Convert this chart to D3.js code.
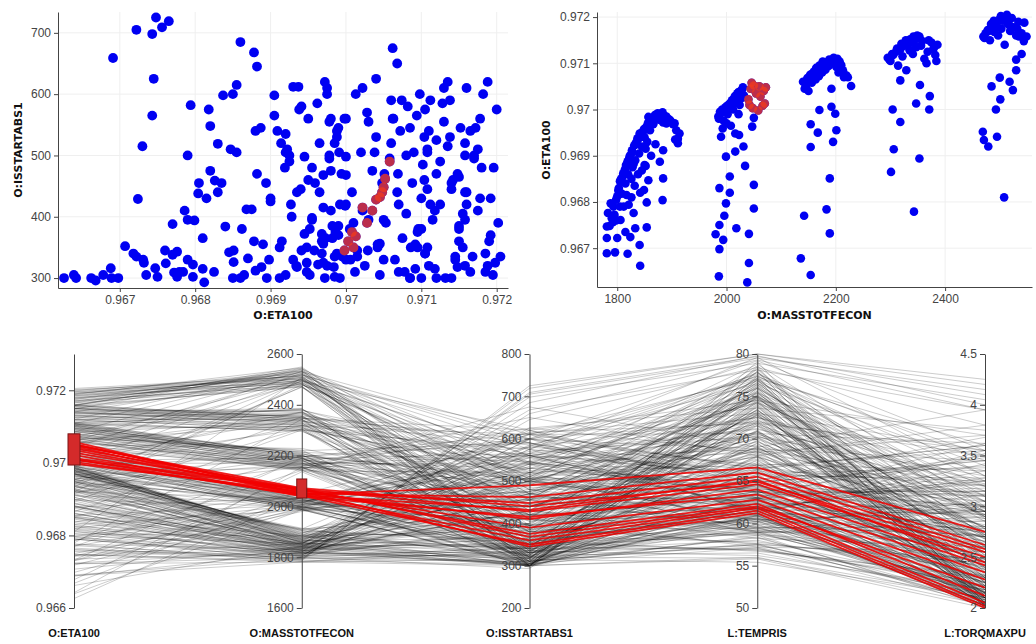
<!DOCTYPE html>
<meta charset="utf-8">
<style>
  body { margin: 0; background: #fff; }
  svg { display: block; font-family: "DejaVu Sans", sans-serif; }
  .tick text { fill: #444; font-size: 12px; }
  .domain, .tick line { stroke: #444; }
  .grid line { stroke: #efefef; }
  .title { font-size: 11px; font-weight: bold; fill: #111; }
  .lines path { fill: none; stroke: #000; stroke-opacity: 0.2; stroke-width: 1px; }
  .sel path { fill: none; stroke: #f20000; stroke-opacity: 0.85; stroke-width: 1.8px; }
</style>
<svg width="1036" height="644"></svg>
<script src="https://d3js.org/d3.v7.min.js"></script>
<script>
// columns: eta100, masstotfecon, isstartabs1, tempris, torqmaxpu
const dims = ["O:ETA100", "O:MASSTOTFECON", "O:ISSTARTABS1", "L:TEMPRIS", "L:TORQMAXPU"];

// mass ~1780-1915
const groupA = [
  [0.96689,1781,300,74.5,2.05],[0.96722,1781,335,76.0,2.15],[0.96747,1781,316,78.5,2.08],
  [0.96776,1783,343,77.2,2.20],[0.96797,1788,302,79.1,2.02],[0.96722,1800,705,79.5,4.15],
  [0.96761,1806,324,75.8,2.10],[0.96688,1819,316,73.4,2.12],[0.96724,1824,429,74.9,2.60],
  [0.96794,1821,582,77.6,3.45],[0.96776,1830,302,72.8,2.01],[0.96743,1833,698,78.9,4.05],
  [0.96707,1841,352,71.5,2.30],[0.96662,1842,300,70.2,2.00],[0.96745,1854,625,73.6,3.75],
  [0.96799,1854,394,72.1,2.45],[0.96826,1849,459,75.3,2.70],[0.96847,1857,510,76.4,2.95],
  [0.96851,1884,326,70.8,2.14],[0.96804,1883,438,71.9,2.62],[0.96887,1878,545,74.2,3.10],
  [0.96912,1884,300,69.5,2.03],[0.96927,1911,420,68.7,2.55],[0.96937,1911,612,73.0,3.55],
  [0.96970,1890,468,70.4,2.75],[0.96970,1905,356,69.1,2.28],[0.96988,1872,540,71.7,3.05],
  [0.96984,1857,318,72.6,2.10],[0.96765,1790,719,80.0,4.20],[0.96772,1795,309,78.0,2.05],
  [0.96691,1796,659,79.3,3.95],[0.96812,1800,293,77.4,2.00],[0.96830,1803,519,78.8,3.00],
  [0.96845,1805,342,76.9,2.22],[0.96818,1808,575,79.6,3.30],[0.96855,1810,505,77.8,2.90],
  [0.96870,1814,332,75.5,2.18],[0.96840,1815,384,78.2,2.40],[0.96882,1818,470,76.1,2.75],
  [0.96860,1820,685,79.8,4.00],[0.96895,1822,300,75.0,2.02],[0.96905,1826,565,77.0,3.25],
  [0.96875,1828,412,76.6,2.52],[0.96882,1830,645,78.4,3.80],[0.96890,1833,355,74.6,2.30],
  [0.96925,1835,490,76.0,2.85],[0.96935,1838,318,74.0,2.12],[0.96905,1840,598,77.3,3.50],
  [0.96945,1842,372,75.2,2.35],[0.96920,1845,535,76.8,3.05],[0.96952,1847,305,73.5,2.06],
  [0.96940,1850,445,75.6,2.68],[0.96878,1852,668,78.1,3.95],[0.96930,1855,330,74.4,2.16],
  [0.96965,1858,520,75.9,2.95],[0.96955,1860,398,74.8,2.50],[0.96975,1863,610,77.1,3.60],
  [0.96968,1866,340,73.2,2.20],[0.96980,1868,475,74.7,2.78],[0.96985,1872,302,72.4,2.03],
  [0.96978,1876,555,75.4,3.20],[0.96990,1880,385,73.0,2.42],[0.96972,1884,620,74.5,3.70],
  [0.96985,1890,335,71.8,2.18],[0.96978,1896,500,72.9,2.90],[0.96968,1902,360,71.0,2.32],
  [0.96955,1908,480,70.6,2.80],[0.96948,1914,310,69.8,2.08],[0.96860,1838,300,73.9,2.04],
  [0.96835,1832,455,75.1,2.72],[0.96810,1826,365,76.2,2.33],[0.96790,1812,500,77.5,2.88],
  [0.96760,1798,345,76.7,2.25],[0.96900,1862,425,72.7,2.58],[0.96880,1850,312,73.8,2.10],
  [0.96820,1842,548,74.9,3.15],[0.96735,1815,305,74.3,2.07],[0.96748,1786,725,80.0,4.25],
  [0.96756,1792,709,79.7,4.10],
  [0.96790,1793,330,77.9,2.12],[0.96805,1798,455,78.6,2.70],[0.96825,1802,310,77.0,2.05],
  [0.96850,1807,600,79.2,3.55],[0.96862,1811,380,76.4,2.38],[0.96880,1816,540,77.8,3.10],
  [0.96888,1819,318,75.6,2.10],[0.96900,1823,430,76.3,2.62],[0.96912,1827,350,75.1,2.25],
  [0.96922,1831,510,76.9,2.98],[0.96928,1834,400,75.4,2.48],[0.96938,1837,575,77.4,3.30],
  [0.96948,1841,325,74.1,2.14],[0.96950,1845,460,75.0,2.72],[0.96958,1849,345,73.7,2.22],
  [0.96962,1853,585,76.5,3.40],[0.96970,1856,415,74.2,2.55],[0.96972,1859,300,72.9,2.02],
  [0.96978,1862,495,74.6,2.90],[0.96982,1865,365,73.1,2.30],[0.96988,1869,530,74.3,3.05],
  [0.96992,1874,420,72.8,2.58],[0.96988,1878,340,72.0,2.20],[0.96994,1883,470,73.3,2.78],
  [0.96986,1887,375,71.6,2.36],[0.96980,1893,560,72.5,3.22],[0.96975,1898,320,70.9,2.10],
  [0.96935,1906,440,70.2,2.65],[0.96925,1870,500,72.2,2.92],[0.96915,1852,360,73.4,2.28],
  [0.96868,1845,412,74.8,2.52],[0.96850,1826,300,76.0,2.03],[0.96815,1817,430,77.1,2.60],
  [0.96790,1805,395,78.3,2.44]
];

// mass ~1980-2072
const groupB = [
  [0.96998,2058,345,61.2,2.00],[0.97003,2048,360,61.8,2.05],[0.97008,2066,375,62.3,2.12],
  [0.97010,2042,350,61.5,2.02],[0.97013,2070,368,62.0,2.20],[0.97022,2040,415,63.4,2.35],
  [0.97028,2062,390,62.8,2.28],[0.97035,2054,410,64.0,2.42],[0.97040,2068,428,64.6,2.50],
  [0.97045,2044,432,65.1,2.45],[0.97050,2060,448,65.5,2.58],[0.97052,2050,462,66.0,2.62],
  [0.97058,2046,490,66.6,2.75],[0.97048,2072,440,64.9,2.55],
  [0.96830,1987,440,68.2,2.68],[0.96797,1999,322,67.5,2.12],[0.96770,1996,388,69.0,2.40],
  [0.96750,1987,302,66.4,2.03],[0.96730,1980,515,70.3,2.95],[0.96718,1994,340,67.9,2.22],
  [0.96698,1987,300,65.8,2.01],[0.96639,1986,305,64.7,2.05],[0.96743,2018,565,71.2,3.20],
  [0.96731,2041,330,63.6,2.15],[0.96668,2041,296,62.9,2.00],[0.96626,2038,300,63.1,2.02],
  [0.96786,2050,410,64.4,2.48],[0.96837,2050,598,68.8,3.45],[0.96878,2034,360,65.2,2.30],
  [0.96820,2006,475,69.6,2.80],[0.96855,2006,615,71.8,3.55],[0.96898,1999,330,66.1,2.15],
  [0.96909,2016,540,68.4,3.10],[0.96920,2031,305,64.8,2.04],[0.96941,1990,580,72.5,3.35],
  [0.96959,1993,455,70.1,2.70],[0.96948,2016,350,66.7,2.26],[0.96945,2023,498,67.8,2.90],
  [0.96963,2047,322,63.0,2.10],[0.96982,2050,385,63.8,2.38],
  [0.96985,1985,520,71.5,3.00],[0.96995,1988,335,68.6,2.18],[0.97000,1992,468,70.8,2.75],
  [0.96975,1995,600,72.0,3.50],[0.97005,1998,380,69.4,2.40],[0.96990,2002,545,70.5,3.15],
  [0.97012,2005,310,67.2,2.06],[0.97020,2010,505,69.9,2.92],[0.97000,2012,420,68.9,2.55],
  [0.97028,2015,570,70.2,3.30],[0.97015,2018,345,67.0,2.22],[0.97035,2020,475,68.5,2.80],
  [0.97010,2024,390,67.6,2.45],[0.97040,2026,530,69.2,3.05],[0.97025,2028,320,66.3,2.10],
  [0.97048,2030,455,67.9,2.72],[0.97030,2032,555,68.7,3.20],[0.96990,2022,370,66.9,2.35],
  [0.96965,2008,440,68.3,2.65],
  [0.96980,1986,410,70.9,2.50],[0.96992,1990,300,68.0,2.02],[0.96998,1996,560,71.1,3.25],
  [0.97008,2001,440,69.7,2.68],[0.97015,2008,335,67.4,2.15],[0.97022,2013,610,70.6,3.62],
  [0.97030,2017,395,68.1,2.46],[0.97038,2022,505,68.8,2.95],[0.97042,2028,350,66.5,2.24],
  [0.96970,2000,325,67.8,2.12]
];

// mass ~2136-2230
const groupC = [
  [0.96678,2136,305,62.4,2.05],[0.96770,2142,338,60.5,2.20],[0.96642,2154,300,61.0,2.00],
  [0.96919,2154,480,64.2,2.82],[0.96968,2154,372,62.1,2.35],[0.96950,2167,560,65.8,3.25],
  [0.96999,2170,418,63.0,2.55],[0.97006,2192,330,60.8,2.15],[0.96991,2199,505,63.7,2.95],
  [0.96955,2201,395,62.4,2.48],[0.96930,2195,612,66.5,3.60],[0.96851,2189,345,60.2,2.25],
  [0.96784,2183,310,59.5,2.08],[0.96732,2189,325,59.0,2.14],[0.97051,2228,470,62.6,2.78],
  [0.97074,2219,590,64.9,3.40],[0.97045,2192,356,61.4,2.30],
  [0.97060,2140,520,66.9,3.00],[0.97045,2143,305,63.9,2.05],[0.97068,2148,440,65.2,2.65],
  [0.97040,2150,625,68.4,3.70],[0.97075,2153,365,63.5,2.32],[0.97058,2156,495,65.9,2.88],
  [0.97082,2160,580,67.0,3.35],[0.97065,2163,330,62.7,2.16],[0.97088,2166,455,64.6,2.70],
  [0.97072,2169,540,66.2,3.12],[0.97092,2172,315,62.0,2.10],[0.97080,2175,405,63.8,2.50],
  [0.97098,2178,600,66.8,3.55],[0.97086,2181,350,62.5,2.25],[0.97102,2184,485,64.4,2.86],
  [0.97094,2187,565,65.6,3.28],[0.97105,2190,340,61.6,2.20],[0.97100,2194,430,63.2,2.60],
  [0.97108,2198,510,64.1,3.00],[0.97110,2203,320,60.9,2.12],[0.97104,2207,460,62.8,2.74],
  [0.97096,2210,380,61.9,2.42],[0.97085,2213,545,63.6,3.15],[0.97070,2222,310,60.3,2.06],
  [0.97062,2146,675,69.0,3.95],[0.97068,2158,650,68.0,3.80],
  [0.97050,2145,395,64.5,2.45],[0.97062,2151,560,66.4,3.20],[0.97078,2157,310,62.9,2.06],
  [0.97090,2164,505,65.1,2.96],[0.97095,2170,375,63.1,2.38],[0.97104,2176,530,64.8,3.10],
  [0.97100,2182,300,61.8,2.02],[0.97108,2188,445,63.5,2.70],[0.97112,2196,590,65.2,3.45],
  [0.97092,2201,355,61.2,2.28],[0.97080,2205,500,62.9,2.92],[0.97070,2215,420,61.7,2.60]
];

// mass ~2295-2387
const groupD = [
  [0.97000,2304,330,59.8,2.15],[0.96973,2318,365,60.6,2.32],[0.96914,2306,520,63.8,3.00],
  [0.96865,2301,305,58.4,2.04],[0.96779,2343,310,57.5,2.08],[0.96894,2353,455,60.9,2.70],
  [0.97013,2347,600,64.2,3.50],[0.97053,2354,390,60.2,2.45],[0.97029,2372,345,58.8,2.22],
  [0.97000,2371,498,61.6,2.92],[0.97063,2318,560,63.0,3.25],
  [0.97112,2295,420,63.4,2.62],[0.97105,2300,575,65.9,3.38],[0.97118,2305,315,61.1,2.10],
  [0.97125,2310,490,63.7,2.88],[0.97095,2314,350,61.8,2.28],[0.97130,2318,610,66.4,3.60],
  [0.97115,2322,395,62.3,2.48],[0.97138,2326,530,64.0,3.10],[0.97085,2329,300,60.7,2.02],
  [0.97140,2332,445,62.6,2.70],[0.97128,2335,585,64.8,3.45],[0.97145,2338,330,60.1,2.16],
  [0.97120,2341,470,62.0,2.80],[0.97150,2344,360,60.5,2.30],[0.97135,2347,620,65.1,3.68],
  [0.97155,2350,405,61.2,2.52],[0.97158,2353,500,62.4,2.95],[0.97148,2358,318,59.6,2.10],
  [0.97110,2362,540,63.3,3.18],[0.97100,2366,380,60.4,2.40],[0.97150,2370,465,61.5,2.76],
  [0.97145,2375,335,59.2,2.20],[0.97130,2378,555,62.9,3.22],[0.97118,2382,410,60.8,2.55],
  [0.97140,2386,300,58.6,2.01],
  [0.97108,2298,350,61.9,2.25],[0.97120,2303,525,64.6,3.05],[0.97132,2312,300,60.9,2.02],
  [0.97142,2320,460,63.0,2.74],[0.97150,2328,380,61.4,2.40],[0.97152,2336,545,63.8,3.15],
  [0.97158,2342,320,59.9,2.12],[0.97160,2349,440,61.7,2.66],[0.97138,2356,590,63.6,3.48],
  [0.97125,2368,420,60.6,2.58],[0.97135,2380,515,61.8,3.02],[0.97105,2384,340,58.9,2.18]
];

// mass ~2469-2549
const groupE = [
  [0.96952,2469,380,58.6,2.42],[0.96934,2471,320,57.2,2.12],[0.96920,2479,505,60.4,2.95],
  [0.96941,2495,345,56.9,2.25],[0.97000,2493,560,61.8,3.25],[0.97022,2501,410,58.7,2.55],
  [0.97069,2500,470,59.5,2.80],[0.97050,2485,330,57.4,2.18],[0.97060,2518,590,61.2,3.42],
  [0.97042,2524,355,56.8,2.30],[0.97108,2530,505,59.0,2.98],[0.97085,2530,300,56.0,2.03],
  [0.96810,2508,315,55.4,2.10],
  [0.97158,2470,440,60.5,2.70],[0.97165,2474,310,58.3,2.08],[0.97172,2478,545,62.1,3.15],
  [0.97150,2482,385,59.4,2.45],[0.97180,2486,480,60.9,2.85],[0.97168,2490,335,58.0,2.20],
  [0.97188,2494,620,63.0,3.62],[0.97160,2497,420,59.1,2.62],[0.97195,2500,305,57.1,2.04],
  [0.97175,2503,510,60.2,3.00],[0.97192,2506,370,57.8,2.38],[0.97140,2509,455,59.6,2.72],
  [0.97200,2512,575,61.4,3.35],[0.97185,2515,340,57.0,2.22],[0.97170,2519,495,59.3,2.90],
  [0.97198,2522,325,56.5,2.14],[0.97178,2526,430,58.2,2.60],[0.97160,2530,610,61.7,3.55],
  [0.97190,2534,360,56.7,2.32],[0.97158,2535,520,59.8,3.05],[0.97158,2549,395,57.5,2.48],
  [0.97120,2540,300,55.8,2.00],[0.97148,2544,470,58.9,2.78],
  [0.97155,2472,350,59.0,2.26],[0.97170,2480,500,61.0,2.95],[0.97185,2484,310,57.6,2.06],
  [0.97192,2489,430,59.2,2.64],[0.97178,2496,560,61.6,3.28],[0.97202,2502,390,57.6,2.44],
  [0.97196,2508,480,58.9,2.86],[0.97205,2513,335,56.2,2.18],[0.97182,2518,600,61.0,3.52],
  [0.97175,2532,410,57.2,2.55],[0.97165,2540,540,59.4,3.12],[0.97188,2545,320,55.9,2.10]
];

// brushed ranges on the parallel axes
const brushEta = [0.96994, 0.9708];
const brushMass = [2033, 2108];

// axis domains / ticks of the parallel plot
const pcDomains = [[0.966, 0.973], [1600, 2600], [200, 800], [50, 80], [2, 4.5]];
const pcTicks = [
  [0.966, 0.968, 0.970, 0.972],
  [1600, 1800, 2000, 2200, 2400, 2600],
  [200, 300, 400, 500, 600, 700, 800],
  [50, 55, 60, 65, 70, 75, 80],
  [2, 2.5, 3, 3.5, 4, 4.5]
];

// scatter plot ticks
const etaTicksX = [0.967, 0.968, 0.969, 0.970, 0.971, 0.972];
const isTicksY = [300, 400, 500, 600, 700];
const massTicksX = [1800, 2000, 2200, 2400];
const etaTicksY = [0.967, 0.968, 0.969, 0.970, 0.971, 0.972];

const rows = groupA.concat(groupB, groupC, groupD, groupE);
const selected = rows.filter(r => r[0] >= brushEta[0] && r[0] <= brushEta[1] &&
                                  r[1] >= brushMass[0] && r[1] <= brushMass[1]);

const svg = d3.select("svg");
const fmt = d3.format("~g");
const blue = "#0000f2", red = "#f03a1e";

function scatter(xi, yi, x, y, xt, yt, r, xTitle, yTitle, titleX) {
  const g = svg.append("g");
  const [x0, x1] = x.range(), [y0, y1] = y.range();

  const grid = g.append("g").attr("class", "grid");
  grid.selectAll(".gx").data(xt).join("line")
      .attr("x1", d => x(d)).attr("x2", d => x(d)).attr("y1", y0).attr("y2", y1);
  grid.selectAll(".gy").data(yt).join("line")
      .attr("y1", d => y(d)).attr("y2", d => y(d)).attr("x1", x0).attr("x2", x1);

  g.append("g").attr("transform", `translate(0,${y0})`)
      .call(d3.axisBottom(x).tickValues(xt).tickFormat(fmt).tickSize(4).tickSizeOuter(0));
  g.append("g").attr("transform", `translate(${x0},0)`)
      .call(d3.axisLeft(y).tickValues(yt).tickFormat(fmt).tickSize(4).tickSizeOuter(0));

  g.append("g").selectAll("circle").data(rows).join("circle")
      .attr("cx", d => x(d[xi])).attr("cy", d => y(d[yi])).attr("r", r)
      .attr("fill", blue);
  g.append("g").selectAll("circle").data(selected).join("circle")
      .attr("cx", d => x(d[xi])).attr("cy", d => y(d[yi])).attr("r", r)
      .attr("fill", red).attr("fill-opacity", 0.78);

  g.append("text").attr("class", "title").attr("text-anchor", "middle")
      .attr("x", (x0 + x1) / 2).attr("y", 319).text(xTitle);
  g.append("text").attr("class", "title").attr("text-anchor", "middle")
      .attr("transform", `translate(${titleX},150) rotate(-90)`).text(yTitle);
}

scatter(0, 2,
  d3.scaleLinear().domain([0.96618, 0.97215]).range([58, 508]),
  d3.scaleLinear().domain([283.8, 734]).range([288, 12]),
  etaTicksX, isTicksY, 4.9, "O:ETA100", "O:ISSTARTABS1", 22);

scatter(1, 0,
  d3.scaleLinear().domain([1763, 2559]).range([597, 1032]),
  d3.scaleLinear().domain([0.96616, 0.97211]).range([287, 12]),
  massTicksX, etaTicksY, 4.3, "O:MASSTOTFECON", "O:ETA100", 550);

// parallel coordinates
const axisX = d3.scalePoint().domain(d3.range(dims.length)).range([74, 985]);
const pcY = pcDomains.map(dm => d3.scaleLinear().domain(dm).range([608, 354]));
const line = d3.line()
    .x((v, i) => axisX(i)).y((v, i) => pcY[i](v));

svg.append("g").attr("class", "lines").selectAll("path").data(rows).join("path")
    .attr("d", line);
svg.append("g").attr("class", "sel").selectAll("path").data(selected).join("path")
    .attr("d", line);

dims.forEach((name, i) => {
  const g = svg.append("g").attr("transform", `translate(${axisX(i)},0)`);
  g.call(d3.axisLeft(pcY[i]).tickValues(pcTicks[i]).tickFormat(fmt).tickSize(5).tickSizeOuter(0));
  g.append("text").attr("class", "title").attr("text-anchor", "middle")
      .attr("x", 0).attr("y", 637).text(name);
});

// brush boxes
[[0, brushEta, 12], [1, brushMass, 10]].forEach(([i, ext, w]) => {
  svg.append("rect")
      .attr("x", axisX(i) - w / 2).attr("width", w)
      .attr("y", pcY[i](ext[1])).attr("height", pcY[i](ext[0]) - pcY[i](ext[1]))
      .attr("fill", "#d42a2a").attr("stroke", "#7a1515").attr("stroke-width", 1);
});
</script>
